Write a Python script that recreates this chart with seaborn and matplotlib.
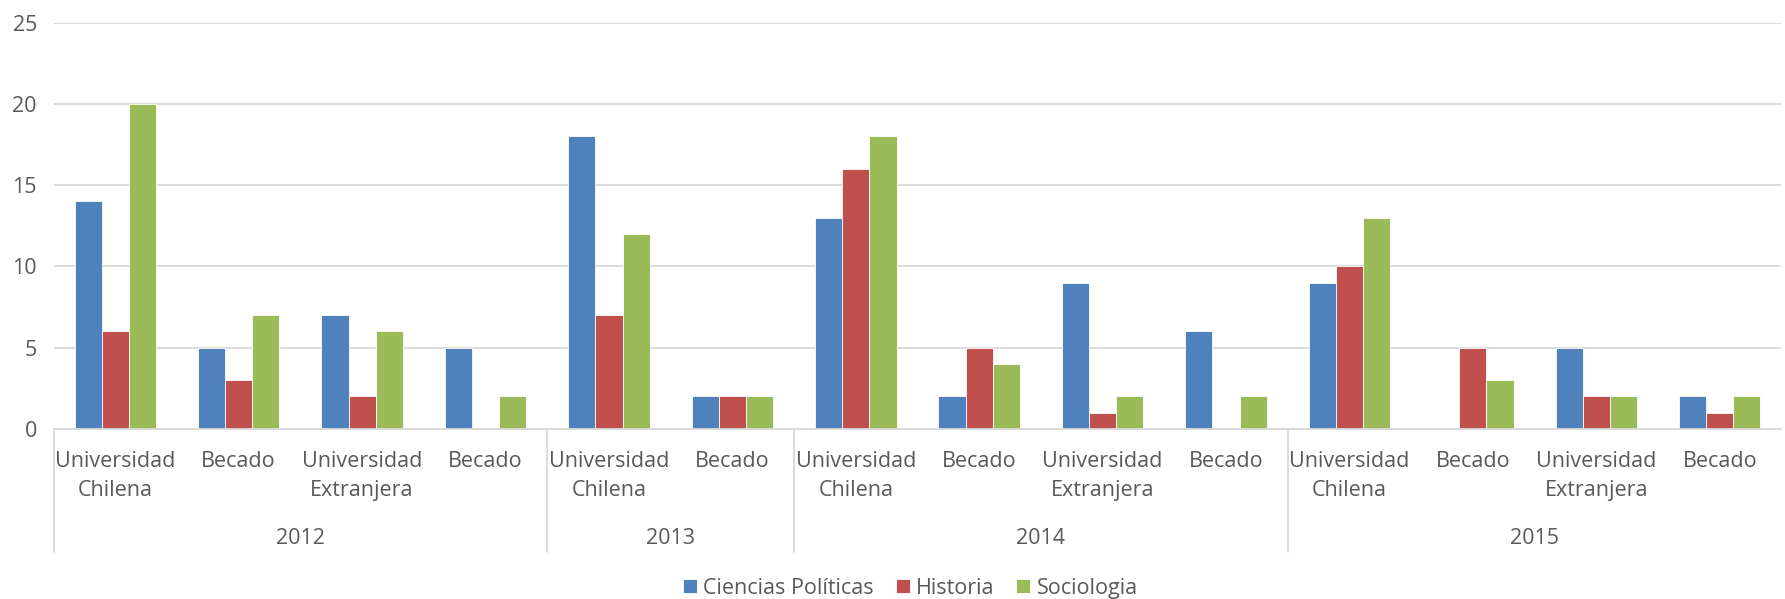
import matplotlib
matplotlib.use("Agg")
import matplotlib.pyplot as plt
import matplotlib.transforms as mtransforms
import pandas as pd
import seaborn as sns

categories = [
    "Universidad\nChilena", "Becado", "Universidad\nExtranjera", "Becado",
    "Universidad\nChilena", "Becado",
    "Universidad\nChilena", "Becado", "Universidad\nExtranjera", "Becado",
    "Universidad\nChilena", "Becado", "Universidad\nExtranjera", "Becado",
]
years = ["2012", "2013", "2014", "2015"]
year_sizes = [4, 2, 4, 4]

series_names = ["Ciencias Políticas", "Historia", "Sociologia"]
ciencias_politicas = [14, 5, 7, 5, 18, 2, 13, 2, 9, 6, 9, 0, 5, 2]
historia = [6, 3, 2, 0, 7, 2, 16, 5, 1, 0, 10, 5, 2, 1]
sociologia = [20, 7, 6, 2, 12, 2, 18, 4, 2, 2, 13, 3, 2, 2]
colors = ["#4F81BD", "#C0504D", "#9BBB59"]

TEXT = "#595959"
GRID = "#D9D9D9"
FS = 15.5

rows = []
for name, vals in zip(series_names, [ciencias_politicas, historia, sociologia]):
    for i, v in enumerate(vals):
        rows.append({"key": f"c{i:02d}", "serie": name, "valor": v})
df = pd.DataFrame(rows)

sns.set_style("white")
plt.rcParams["font.family"] = ["Open Sans", "DejaVu Sans"]

fig = plt.figure(figsize=(17.85, 5.99), dpi=100)
ax = fig.add_axes([0.03, 0.284, 0.968, 0.678])

sns.barplot(data=df, x="key", y="valor", hue="serie", hue_order=series_names,
            palette=colors, width=0.66, gap=0, saturation=1, ax=ax,
            edgecolor="white", linewidth=0.6, legend=True)

ax.set_ylim(0, 25)
ax.set_yticks([0, 5, 10, 15, 20, 25])
ax.set_xlim(-0.5, len(categories) - 0.5)
ax.yaxis.grid(True, color=GRID, linewidth=1.3)
ax.set_axisbelow(True)
for side in ["top", "right", "left"]:
    ax.spines[side].set_visible(False)
ax.spines["bottom"].set_color(GRID)
ax.spines["bottom"].set_linewidth(1.3)

ax.set_xticks(range(len(categories)))
ax.set_xticklabels(categories, linespacing=1.5)
ax.tick_params(axis="x", length=0, pad=16, labelsize=FS, labelcolor=TEXT)
ax.tick_params(axis="y", length=0, pad=12, labelsize=FS, labelcolor=TEXT)
ax.set_xlabel("")
ax.set_ylabel("")

# year level of the category axis
trans = mtransforms.blended_transform_factory(ax.transData, ax.transAxes)
start = 0
bounds = [-0.5]
for year, size in zip(years, year_sizes):
    center = start + (size - 1) / 2
    ax.text(center, -0.27, year, transform=trans, ha="center", va="center",
            fontsize=FS, color=TEXT)
    start += size
    bounds.append(start - 0.5)
for b in bounds[:-1]:
    ax.plot([b, b], [0, -0.303], transform=trans, color=GRID, lw=1.3,
            clip_on=False)

leg = ax.legend(loc="center", bbox_to_anchor=(0.51, 0.018),
                bbox_transform=fig.transFigure, ncol=3, frameon=False,
                fontsize=FS, handlelength=0.65, handleheight=0.65,
                handletextpad=0.3, columnspacing=1.0)
for t in leg.get_texts():
    t.set_color(TEXT)

fig.savefig("out.png", dpi=100)
